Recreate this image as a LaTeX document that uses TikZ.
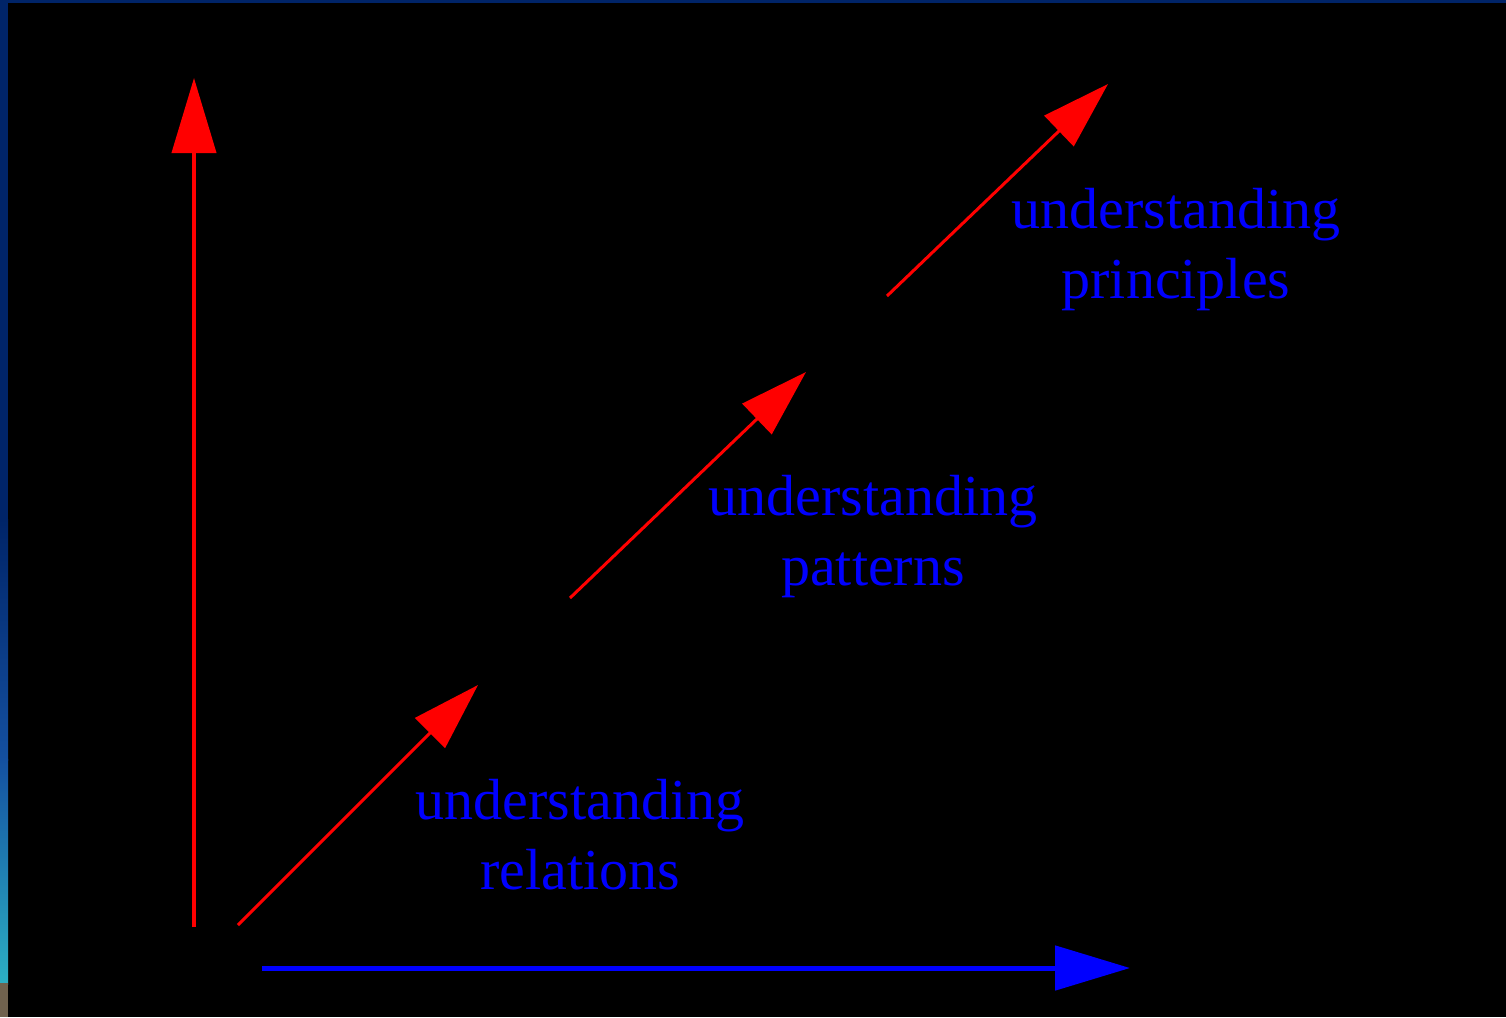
\documentclass[tikz,border=0pt]{standalone}
\usepackage{fontspec}
\setmainfont{Liberation Serif}
\usetikzlibrary{arrows.meta}
\definecolor{navy}{RGB}{0,36,104}
\definecolor{midblue}{RGB}{20,80,160}
\definecolor{tealc}{RGB}{44,176,196}
\definecolor{brownc}{RGB}{112,98,78}
\definecolor{pred}{RGB}{255,0,0}
\definecolor{pblue}{RGB}{0,0,255}
\tikzset{
  axisred/.style={draw=pred,line width=4pt,-{Triangle[length=75pt,width=44pt]}},
  axisblue/.style={draw=pblue,line width=5pt,-{Triangle[length=75pt,width=44pt]}},
  diagarrow/.style={draw=pred,line width=3pt,-{Triangle[length=68pt,width=42pt]}},
  label/.style={text=pblue,align=center,font=\fontsize{58}{70}\selectfont,inner sep=0pt}
}
\begin{document}
\begin{tikzpicture}[x=1pt,y=-1pt]
\useasboundingbox (0,0) rectangle (1506,1017);
\fill[black] (0,0) rectangle (1506,1017);
% frame strips
\fill[navy] (0,0) rectangle (1506,3);
\fill[navy] (0,0) rectangle (8,520);
\shade[top color=navy,bottom color=midblue] (0,519) rectangle (8,760);
\shade[top color=midblue,bottom color=tealc] (0,759) rectangle (8,984);
\fill[brownc] (0,983) rectangle (8,1017);
% coordinates
\coordinate (vstart) at (194,927);
\coordinate (vtip) at (194,78);
\coordinate (hstart) at (262,968);
\coordinate (htip) at (1130,968);
\coordinate (d1s) at (238,925);
\coordinate (d1e) at (478,685);
\coordinate (d2s) at (570,598);
\coordinate (d2e) at (806,372);
\coordinate (d3s) at (887,296);
\coordinate (d3e) at (1108,84);
% axes
\draw[axisred] (vstart) -- (vtip);
\draw[axisblue] (hstart) -- (htip);
% diagonal arrows
\draw[diagarrow] (d1s) -- (d1e);
\draw[diagarrow] (d2s) -- (d2e);
\draw[diagarrow] (d3s) -- (d3e);
% labels
\node[label] (rel) at (580,835) {understanding\\relations};
\node[label] (pat) at (873,537) {understanding\\patterns};
\node[label] (pri) at (1176,250) {understanding\\principles};
\end{tikzpicture}
\end{document}
